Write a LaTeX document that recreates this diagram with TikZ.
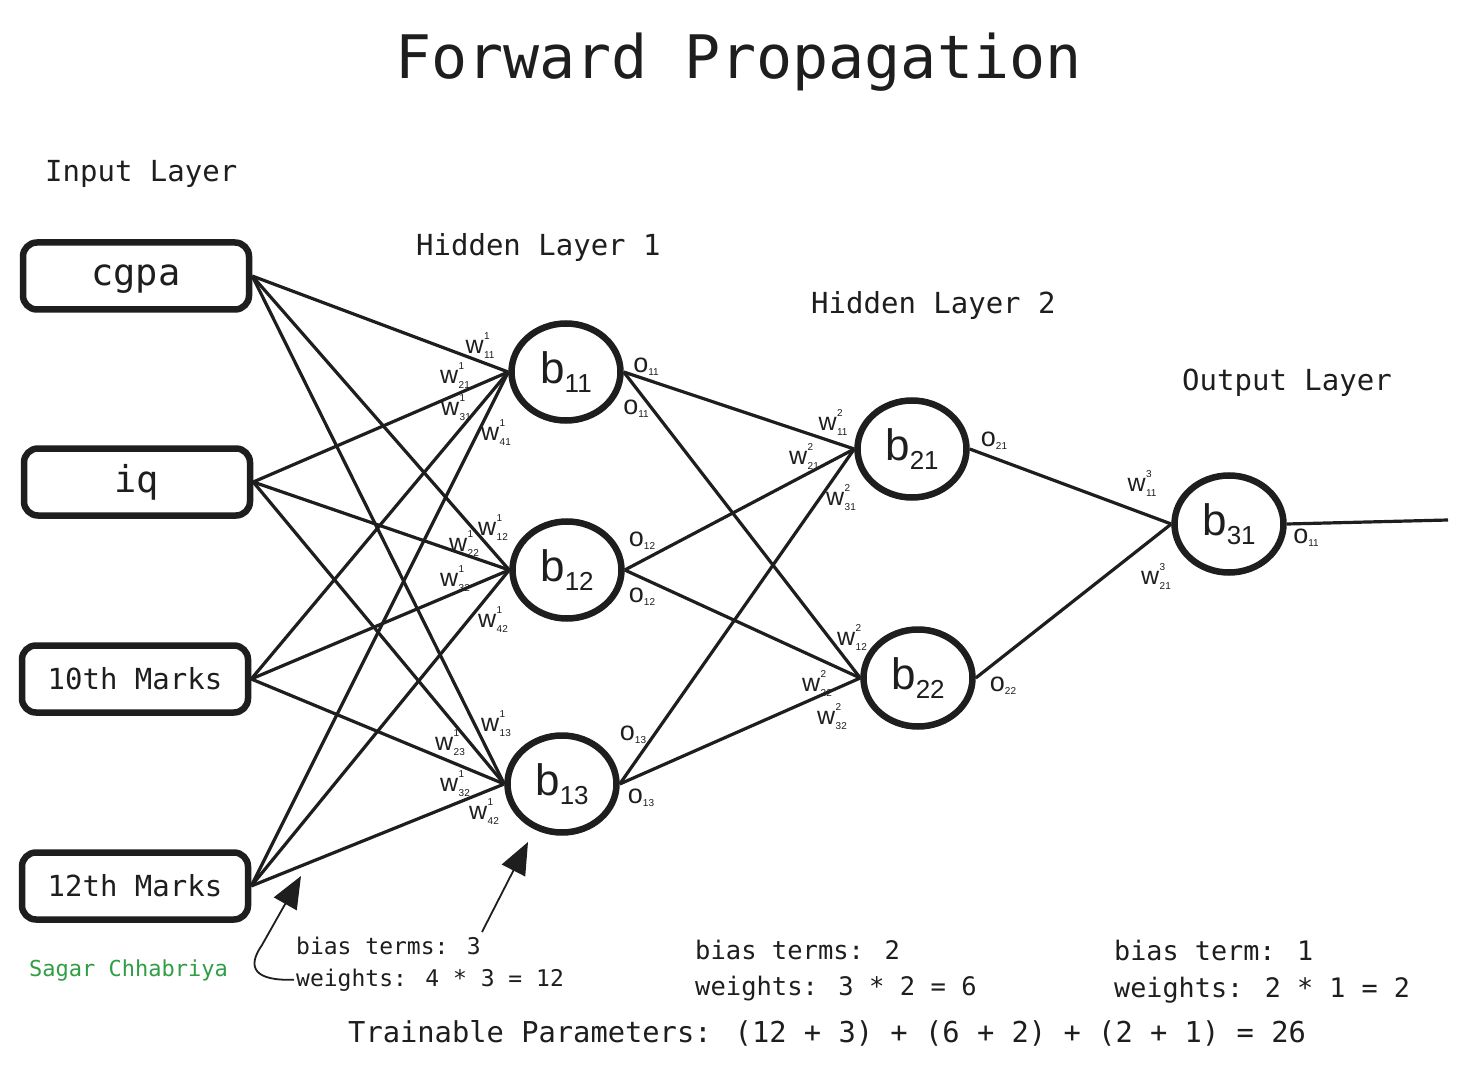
\documentclass[tikz,border=0pt]{standalone}
\usepackage{fontspec}
\setmainfont{Liberation Sans}
\newfontfamily\monof{DejaVu Sans Mono}
\usetikzlibrary{shapes.geometric,arrows.meta}
\definecolor{ink}{HTML}{1E1E1E}
\definecolor{sig}{HTML}{2F9E44}
\newcommand\wlab[2]{\fontsize{25}{25}\selectfont w\kern0.5pt\rlap{\raisebox{14pt}{\fontsize{10}{10}\selectfont #1}}\raisebox{-5pt}{\fontsize{10}{10}\selectfont #2}}
\newcommand\olab[1]{\fontsize{27}{27}\selectfont o\raisebox{-3pt}{\fontsize{10}{10}\selectfont #1}}
\newcommand\blab[1]{\fontsize{44}{44}\selectfont b\raisebox{-9pt}{\fontsize{26}{26}\selectfont #1}}
\begin{document}
\begin{tikzpicture}[x=1pt,y=-1pt,
  inbox/.style={draw=ink, line width=6.5pt, rounded corners=14pt, minimum width=226pt, minimum height=67pt, inner sep=0pt, text=ink, font=\monof\fontsize{29}{29}\selectfont},
  neuron/.style={draw=ink, ellipse, line width=6.5pt, minimum width=109pt, minimum height=97pt, inner sep=0pt, text=ink},
  conn/.style={line width=3.2pt, draw=ink},
  lbl/.style={text=ink, inner sep=0pt},
  mono/.style={text=ink, inner sep=0pt, anchor=base west},
  note/.style={draw=ink, line width=1.8pt, -{Triangle[length=32pt,width=26pt]}}]
\useasboundingbox (0,0) rectangle (1467,1075);
\fill[white] (0,0) rectangle (1467,1075);
% titles
\node[mono, font=\monof\fontsize{60}{60}\selectfont] (title) at (395,79) {Forward Propagation};
\node[mono, font=\monof\fontsize{29}{29}\selectfont] (Lin) at (45,182) {Input Layer};
\node[mono, font=\monof\fontsize{29}{29}\selectfont] (Lh1) at (416,256) {Hidden Layer 1};
\node[mono, font=\monof\fontsize{29}{29}\selectfont] (Lh2) at (811,314) {Hidden Layer 2};
\node[mono, font=\monof\fontsize{29}{29}\selectfont] (Lout) at (1182,390) {Output Layer};
% inputs
\node[inbox, font=\monof\fontsize{37}{37}\selectfont, text height=25pt, text depth=6pt] (i1) at (136,276) {cgpa};
\node[inbox, font=\monof\fontsize{37}{37}\selectfont] (i2) at (137,482) {iq};
\node[inbox] (i3) at (135,679) {10th Marks};
\node[inbox] (i4) at (135,886) {12th Marks};
% neurons
\node[neuron] (b11) at (566,372) {\blab{11}};
\node[neuron] (b12) at (567,570) {\blab{12}};
\node[neuron] (b13) at (562,784) {\blab{13}};
\node[neuron] (b21) at (912,449) {\blab{21}};
\node[neuron] (b22) at (918,678) {\blab{22}};
\node[neuron] (b31) at (1229,524) {\blab{31}};
\coordinate (out) at (1448,520);
% connections
\foreach \i in {i1,i2,i3,i4}{\foreach \h in {b11,b12,b13}{\draw[conn] (\i.east) -- (\h.west);}}
\foreach \h in {b11,b12,b13}{\foreach \k in {b21,b22}{\draw[conn] (\h.east) -- (\k.west);}}
\draw[conn] (b21.east) -- (b31.west);
\draw[conn] (b22.east) -- (b31.west);
\draw[conn] (b31.east) -- (out);
% weight labels layer 1
\node[lbl] (w111) at (480,346) {\wlab{1}{11}};
\node[lbl] (w121) at (455,376) {\wlab{1}{21}};
\node[lbl] (w131) at (456,408) {\wlab{1}{31}};
\node[lbl] (w141) at (496,433) {\wlab{1}{41}};
\node[lbl] (w112) at (493,528) {\wlab{1}{12}};
\node[lbl] (w122) at (464,544) {\wlab{1}{22}};
\node[lbl] (w132) at (455,579) {\wlab{1}{32}};
\node[lbl] (w142) at (493,620) {\wlab{1}{42}};
\node[lbl] (w113) at (496,724) {\wlab{1}{13}};
\node[lbl] (w123) at (450,743) {\wlab{1}{23}};
\node[lbl] (w133) at (455,784) {\wlab{1}{32}};
\node[lbl] (w143) at (484,812) {\wlab{1}{42}};
% outputs layer 1
\node[lbl] (o11a) at (646,367) {\olab{11}};
\node[lbl] (o11b) at (636,409) {\olab{11}};
\node[lbl] (o12a) at (642,541) {\olab{12}};
\node[lbl] (o12b) at (642,597) {\olab{12}};
\node[lbl] (o13a) at (633,735) {\olab{13}};
\node[lbl] (o13b) at (641,798) {\olab{13}};
% layer 2
\node[lbl] (w211) at (833,423) {\wlab{2}{11}};
\node[lbl] (w221) at (804,457) {\wlab{2}{21}};
\node[lbl] (w231) at (841,498) {\wlab{2}{31}};
\node[lbl] (w212) at (852,638) {\wlab{2}{12}};
\node[lbl] (w222) at (817,684) {\wlab{2}{22}};
\node[lbl] (w232) at (832,717) {\wlab{2}{32}};
\node[lbl] (o21) at (994,441) {\olab{21}};
\node[lbl] (o22) at (1003,686) {\olab{22}};
% layer 3
\node[lbl] (w311) at (1142,484) {\wlab{3}{11}};
\node[lbl] (w321) at (1156,577) {\wlab{3}{21}};
\node[lbl] (o31) at (1306,538) {\olab{11}};
% notes
\node[mono, font=\monof\fontsize{23}{23}\selectfont] (n1a) at (296,954) {bias terms: 3};
\node[mono, font=\monof\fontsize{23}{23}\selectfont] (n1b) at (296,986) {weights: 4 * 3 = 12};
\node[mono, font=\monof\fontsize{25.5}{25.5}\selectfont] (n2a) at (695,959) {bias terms: 2};
\node[mono, font=\monof\fontsize{25.5}{25.5}\selectfont] (n2b) at (695,995) {weights: 3 * 2 = 6};
\node[mono, font=\monof\fontsize{26.8}{26.8}\selectfont] (n3a) at (1114,960) {bias term: 1};
\node[mono, font=\monof\fontsize{26.8}{26.8}\selectfont] (n3b) at (1114,997) {weights: 2 * 1 = 2};
\node[mono, font=\monof\fontsize{28.75}{28.75}\selectfont] (tot) at (348,1042) {Trainable Parameters: (12 + 3) + (6 + 2) + (2 + 1) = 26};
\node[mono, font=\monof\fontsize{22}{22}\selectfont, text=sig] (sig) at (29,976) {Sagar Chhabriya};
% arrows
\coordinate (t1) at (301,876);
\coordinate (t2) at (528,842);
\coordinate (s2) at (482,932);
\draw[note] ([xshift=-2pt]n1b.west) .. controls (255,981) and (246,968) .. (262,945) -- (t1);
\draw[note] (s2) -- (t2);
\end{tikzpicture}
\end{document}
